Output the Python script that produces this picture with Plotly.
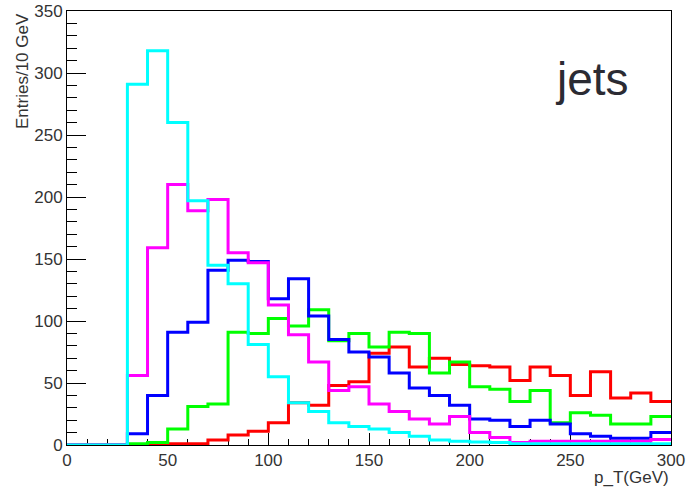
import plotly.graph_objects as go

BIN_EDGES = list(range(0, 310, 10))  # 30 bins of 10 GeV, 0..300

red = [0, 0, 0, 0, 0, 1, 1, 4, 8, 11,
       18, 34, 32, 48, 51, 74, 79, 63, 70, 65,
       64, 63, 52, 63, 56, 40, 59, 38, 42, 35]
green = [0, 0, 0, 1, 2, 13, 31, 33, 91, 90,
         102, 96, 109, 84, 90, 79, 91, 90, 58, 67,
         47, 45, 35, 44, 18, 26, 24, 17, 17, 23]
blue = [0, 0, 0, 9, 40, 91, 99, 141, 149, 148,
        118, 134, 104, 85, 75, 71, 58, 46, 40, 32,
        21, 20, 15, 20, 17, 9, 7, 5.5, 5.5, 10]
magenta = [0, 0, 0, 56, 159, 210, 189, 198, 155, 147,
           113, 89, 67, 44, 47, 33, 27, 21, 17, 23,
           10, 6, 2, 3, 3, 3, 3, 3, 3, 4.5]
cyan = [0, 0, 0, 291, 318, 260, 197, 145, 130, 81,
        55, 34, 27, 18, 15, 13, 10, 7, 4, 3,
        2.5, 2, 1, 1, 1, 1, 1, 1, 1, 1]

SERIES = [("red", red, "#ff0000"), ("green", green, "#00ff00"),
          ("blue", blue, "#0000ff"), ("magenta", magenta, "#ff00ff"),
          ("cyan", cyan, "#00ffff")]

FONT = "Liberation Sans, Arial, sans-serif"

fig = go.Figure()
for name, vals, col in SERIES:
    fig.add_trace(go.Scatter(
        x=BIN_EDGES, y=vals + [vals[-1]],
        mode="lines", line=dict(color=col, width=3, shape="hv"),
        name=name, showlegend=False, cliponaxis=False, hoverinfo="skip"))

fig.update_layout(
    width=687, height=489,
    margin=dict(l=67, r=16, t=11, b=44, autoexpand=False),
    paper_bgcolor="white", plot_bgcolor="white",
    font=dict(family=FONT, color="#333333", size=17),
    showlegend=False,
)
fig.update_xaxes(
    range=[0, 300], showgrid=False, zeroline=False, automargin=False,
    showline=True, linecolor="black", linewidth=1, mirror=True,
    ticks="inside", ticklen=12, tickcolor="black", tickwidth=1,
    tick0=0, dtick=50, tickfont=dict(size=17, color="#333333"),
    minor=dict(ticks="inside", ticklen=6, dtick=10, tickcolor="black", tickwidth=1),
    layer="below traces",
)
fig.update_yaxes(
    range=[0, 350], showgrid=False, zeroline=False, automargin=False,
    showline=True, linecolor="black", linewidth=1, mirror=True,
    ticks="inside", ticklen=19, tickcolor="black", tickwidth=1,
    tick0=0, dtick=50, tickfont=dict(size=17, color="#333333"),
    minor=dict(ticks="inside", ticklen=10, dtick=10, tickcolor="black", tickwidth=1),
    layer="below traces",
)

fig.add_annotation(text="jets", xref="paper", yref="paper", x=0.869, y=0.843,
                   xanchor="center", yanchor="middle", showarrow=False,
                   font=dict(family=FONT, size=46, color="#2b2b33"))
fig.add_annotation(text="Entries/10 GeV", xref="paper", yref="paper",
                   x=-0.0745, y=1.0, xanchor="center", yanchor="top",
                   textangle=-90, showarrow=False,
                   font=dict(family=FONT, size=17, color="#333333"))
fig.add_annotation(text="p_T(GeV)", xref="paper", yref="paper",
                   x=1.0, y=-0.074, xanchor="right", yanchor="middle",
                   showarrow=False,
                   font=dict(family=FONT, size=17, color="#333333"))

# remove the browser's default 8px body margin so the figure sits at the page origin
fig.write_html("out.html", config={"displayModeBar": False},
               post_script="document.body.style.margin='0px';")
